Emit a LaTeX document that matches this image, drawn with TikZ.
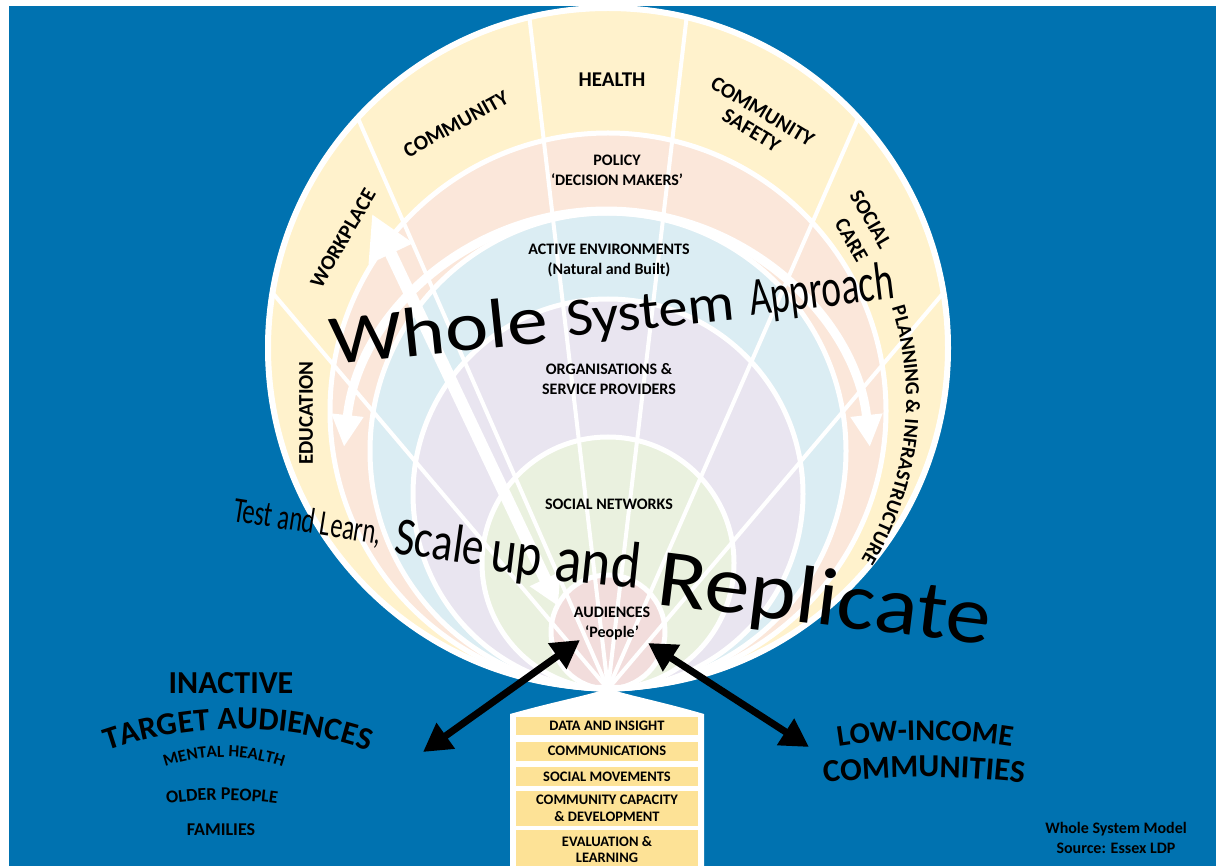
\documentclass[tikz,border=0pt]{standalone}
\usepackage{fontspec}
\setmainfont{Carlito}
\usetikzlibrary{arrows.meta,decorations.text,calc}
\definecolor{bg}{RGB}{0,114,176}
\definecolor{bandY}{RGB}{255,242,204}
\definecolor{bandP}{RGB}{251,231,218}
\definecolor{bandB}{RGB}{219,237,243}
\definecolor{bandL}{RGB}{233,229,240}
\definecolor{bandG}{RGB}{234,241,223}
\definecolor{bandA}{RGB}{242,221,220}
\definecolor{barY}{RGB}{253,226,150}
\tikzset{
  band/.style={draw=white, line width=5pt},
  merid/.style={draw=white, line width=4pt},
  seclabel/.style={font=\fontsize{21}{23}\selectfont\bfseries, align=center, inner sep=0pt},
  inlabel/.style={font=\fontsize{16}{20}\selectfont\bfseries, align=center, inner sep=0pt},
  barbox/.style={fill=barY, minimum width=182pt, inner sep=0pt, font=\fontsize{14.5}{17}\selectfont\bfseries, align=center},
  bigword/.style={inner sep=0pt, anchor=base west},
  whitearrow/.style={draw=white, line width=9pt, {Triangle[length=32pt,width=30pt]}-{Triangle[length=32pt,width=30pt]}},
  diagarrow/.style={draw=white, line width=12pt, {Triangle[length=30pt,width=32pt]}-{Triangle[length=44pt,width=46pt]}},
  blackarrow/.style={draw=black, line width=7pt, {Triangle[length=28pt,width=30pt]}-{Triangle[length=28pt,width=30pt]}},
}
\begin{document}
\begin{tikzpicture}[x=1pt,y=-1pt]
\useasboundingbox (0,0) rectangle (1216,866);
\fill[white] (0,0) rectangle (1216,866);
\fill[bg] (9,6) rectangle (1216,866);

\coordinate (B) at (608,689);
\coordinate (O) at (608,348);

% pedestal
\fill[white] (510,714) .. controls (560,700) and (595,694) .. (608,688)
  .. controls (621,694) and (656,700) .. (704,714) -- (704,870) -- (510,870) -- cycle;

% bands
\path[band, fill=bandY] (608,348) circle[radius=340];
\path[band, fill=bandP] (608,411) circle[radius=278];
\path[band, fill=bandB] (608,451) circle[radius=238];
\path[band, fill=bandL] (608,494) circle[radius=195];
\path[band, fill=bandG] (608,563) circle[radius=126];
\path[band, fill=bandA] (608,632) circle[radius=57];

% meridians
\begin{scope}
\clip (608,348) circle[radius=340];
\foreach \a in {192,224,257,283,316,348}
  \draw[merid] (B) -- ($(O)+(\a:360)$);
\end{scope}
\draw[white, line width=6pt] (608,348) circle[radius=340];

% white arrows
\draw[whitearrow] (344,447) arc[start angle=186.2, end angle=353.8, radius=264.5];
\coordinate (dA) at (558,606);
\coordinate (dB) at (372,214);
\draw[diagarrow] (dA) -- (dB);

% sector labels
\node[seclabel] (health) at (612,80) {HEALTH};
\node[seclabel, rotate=29] (community) at (456,124) {COMMUNITY};
\node[seclabel, font=\fontsize{21}{22}\selectfont\bfseries, rotate=-31] (csafety) at (757,121) {COMMUNITY\\SAFETY};
\node[seclabel, font=\fontsize{21}{27}\selectfont\bfseries, align=right, rotate=-60] (scare) at (859,226) {SOCIAL\\CARE};
\node[seclabel, rotate=60] (workplace) at (343,238) {WORKPLACE};
\node[seclabel, rotate=90] (education) at (306,413) {EDUCATION};
\path[decorate, decoration={text along path, text align=left,
  text={|\fontsize{20}{20}\selectfont\bfseries|PLANNING}}]
  (600,400) ++(-17.5:306) arc[start angle=-17.5, end angle=1, radius=306];
\node[seclabel, font=\fontsize{20}{20}\selectfont\bfseries, rotate=-91.4] (amp) at (913,407) {\&};
\path[decorate, decoration={text along path, text align=left,
  text={|\fontsize{20}{20}\selectfont\bfseries|INFRASTRUCTURE}}]
  (600,400) ++(3.5:306) arc[start angle=3.5, end angle=37, radius=306];

% inner labels
\node[inlabel] (policy) at (617,170) {POLICY\\‘DECISION MAKERS’};
\node[inlabel] (active) at (609,260) {ACTIVE ENVIRONMENTS\\(Natural and Built)};
\node[inlabel] (orgs) at (609,379) {ORGANISATIONS \&\\SERVICE PROVIDERS};
\node[inlabel] (social) at (609,504) {SOCIAL NETWORKS};
\node[inlabel] (aud) at (612,624) {AUDIENCES\\‘People’};

% big words
\node[bigword, rotate=6, xscale=1.17, font=\fontsize{70}{70}\selectfont] (ws1) at (332,365) {Whole};
\node[bigword, rotate=6, xscale=1.08, font=\fontsize{54}{54}\selectfont] (ws2) at (568,337) {System};
\node[bigword, rotate=7, xscale=0.69, font=\fontsize{54}{54}\selectfont] (ws3) at (751,316) {Approach};
\node[bigword, rotate=-9, xscale=0.68, font=\fontsize{36}{36}\selectfont] (w1) at (232,521) {Test and Learn,};
\node[bigword, rotate=-8, xscale=0.8, font=\fontsize{54}{54}\selectfont] (w2) at (393,553) {Scale};
\node[bigword, rotate=-7, xscale=0.78, font=\fontsize{62}{62}\selectfont] (w3) at (489,570) {up};
\node[bigword, rotate=-6, xscale=0.85, font=\fontsize{66}{66}\selectfont] (w4) at (553,580) {and};
\node[bigword, rotate=-7, xscale=1.1, font=\fontsize{82}{82}\selectfont] (w5) at (655,604) {Replicate};

% bars
\node[barbox, minimum height=18pt] (b1) at (607,726) {DATA AND INSIGHT};
\node[barbox, minimum height=19pt] (b2) at (607,751) {COMMUNICATIONS};
\node[barbox, minimum height=19pt] (b3) at (607,776.5) {SOCIAL MOVEMENTS};
\node[barbox, minimum height=35pt] (b4) at (607,808.5) {COMMUNITY CAPACITY\\\& DEVELOPMENT};
\node[barbox, minimum height=40pt, font=\fontsize{14.5}{16}\selectfont\bfseries] (b5) at (607,850) {EVALUATION \&\\LEARNING};

% black arrows
\coordinate (la1) at (423,752);
\coordinate (la2) at (580,640);
\coordinate (ra1) at (648,643);
\coordinate (ra2) at (809,747);
\draw[blackarrow] (la1) -- (la2);
\draw[blackarrow] (ra1) -- (ra2);

% left texts
\node[inner sep=0pt, anchor=base, font=\fontsize{32}{32}\selectfont\bfseries] (inactive) at (231,693) {INACTIVE};
\path[decorate, decoration={text along path, text align=center,
  text={|\fontsize{32}{32}\selectfont\bfseries|TARGET AUDIENCES}}]
  (238,1129) ++(240:400) arc[start angle=240, end angle=300, radius=400];
\path[decorate, decoration={text along path, text align=center,
  text={|\fontsize{17}{17}\selectfont\bfseries|MENTAL HEALTH}}]
  (224,937) ++(240:180) arc[start angle=240, end angle=300, radius=180];
\path[decorate, decoration={text along path, text align=center,
  text={|\fontsize{18}{18}\selectfont\bfseries|OLDER PEOPLE}}]
  (222,1194) ++(255:394) arc[start angle=255, end angle=285, radius=394];
\node[inner sep=0pt, anchor=base, font=\fontsize{18}{18}\selectfont\bfseries] (families) at (221,835) {FAMILIES};

% right texts
\path[decorate, decoration={text along path, text align=center,
  text={|\fontsize{30}{30}\selectfont\bfseries|LOW-INCOME}}]
  (925,1297) ++(255:557) arc[start angle=255, end angle=285, radius=557];
\path[decorate, decoration={text along path, text align=center,
  text={|\fontsize{32}{32}\selectfont\bfseries|COMMUNITIES}}]
  (924,1613) ++(258:836) arc[start angle=258, end angle=282, radius=836];

\node[inner sep=0pt, align=center, font=\fontsize{16}{20}\selectfont\bfseries] (src) at (1116,838) {Whole System Model\\Source: Essex LDP};
\end{tikzpicture}
\end{document}
